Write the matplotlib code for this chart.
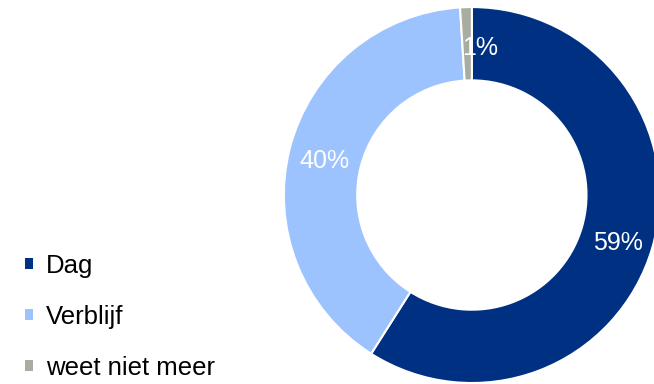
import matplotlib
matplotlib.use('Agg')
import matplotlib.pyplot as plt
from matplotlib.patches import Patch

plt.rcParams['font.family'] = ['Liberation Sans', 'DejaVu Sans']

# data
categories = ['Dag', 'Verblijf', 'weet niet meer']
shares = [59, 40, 1]
colors = ['#003082', '#9DC3FF', '#A9ACA0']

fig = plt.figure(figsize=(6.54, 3.84), dpi=100)
ax = fig.add_axes([0.434, 0.0026, 0.575, 0.979])

wedges, texts, pcts = ax.pie(
    shares, colors=colors, startangle=90, counterclock=False,
    radius=1.0, autopct='%1.0f%%', pctdistance=0.8,
    wedgeprops=dict(width=0.39, edgecolor='white', linewidth=1.5),
    textprops=dict(color='white', fontsize=18))
ax.set_xlim(-1, 1)
ax.set_ylim(-1, 1)
ax.set_aspect('equal')
for w in wedges:
    w.set_clip_on(False)

# labels sit slightly lower than pie default
for t in pcts:
    x, y = t.get_position()
    t.set_position((x - 0.01, y - 0.02))
x, y = pcts[0].get_position()
pcts[0].set_position((x + 0.02, y - 0.01))
# small slice label is nudged right of its wedge
x, y = pcts[2].get_position()
pcts[2].set_position((x + 0.08, y))

handles = [Patch(facecolor=c, edgecolor='none') for c in colors]
fig.legend(handles, categories, loc='center left', bbox_to_anchor=(0.003, 0.175),
           frameon=False, fontsize=18.5, handlelength=0.3, handleheight=0.3,
           handletextpad=0.5, labelspacing=1.05)

fig.savefig('out.png', dpi=100, facecolor='white')
